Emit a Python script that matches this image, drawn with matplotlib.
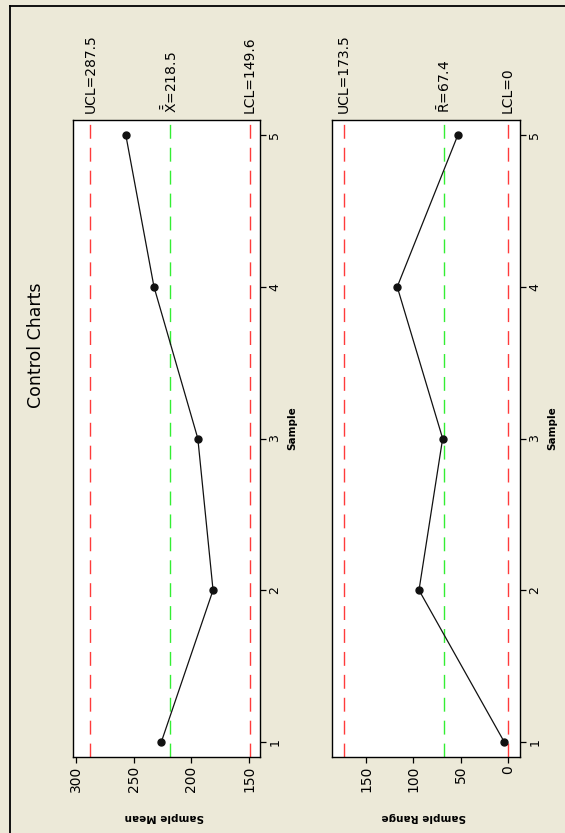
import matplotlib
matplotlib.use("Agg")
import matplotlib.pyplot as plt
from matplotlib.lines import Line2D
from matplotlib.transforms import blended_transform_factory

plt.rcParams['font.family'] = ['DejaVu Sans']
plt.rcParams['mathtext.fontset'] = 'dejavusans'

# ---- data ----
samples = [1, 2, 3, 4, 5]
sample_means = [226.0, 181.2, 194.4, 232.4, 256.8]
sample_ranges = [4, 94, 69, 117, 53]

mean_ucl, mean_center, mean_lcl = 287.5, 218.5, 149.6
range_ucl, range_center, range_lcl = 173.5, 67.4, 0.0

mean_ticks = [150, 200, 250, 300]
range_ticks = [0, 50, 100, 150]

mean_limit_labels = ["UCL=287.5", r"$\bar{\bar{\mathrm{X}}}$=218.5", "LCL=149.6"]
range_limit_labels = ["UCL=173.5", r"$\bar{\mathrm{R}}$=67.4", "LCL=0"]

W, H = 565, 833
BG = '#ECE9D8'
RED = '#FF3B3B'
GREEN = '#33EE33'

fig = plt.figure(figsize=(W / 100, H / 100), dpi=100, facecolor=BG)


def fx(x):
    return x / W


def fy(y):
    return 1 - y / H


# outer frame (left and top borders)
fig.add_artist(Line2D([fx(10), fx(10)], [0, fy(6)], color='black', lw=1.3,
                      transform=fig.transFigure))
fig.add_artist(Line2D([fx(10), 1], [fy(6), fy(6)], color='black', lw=1.3,
                      transform=fig.transFigure))

box_top, box_bot = 120, 757
panels = [
    dict(x0=73, x1=260, values=sample_means, limits=(mean_ucl, mean_center, mean_lcl),
         xlim=(302.6, 140.5), ticks=mean_ticks, labels=mean_limit_labels,
         name="Sample Mean"),
    dict(x0=332, x1=520, values=sample_ranges, limits=(range_ucl, range_center, range_lcl),
         xlim=(185.9, -12.7), ticks=range_ticks, labels=range_limit_labels,
         name="Sample Range"),
]

dash = (0, (10, 6.5))
for p in panels:
    ax = fig.add_axes([fx(p['x0']), fy(box_bot), (p['x1'] - p['x0']) / W,
                       (box_bot - box_top) / H])
    ax.set_facecolor('white')
    ucl, cl, lcl = p['limits']
    ax.axvline(ucl, color=RED, ls=dash, lw=1.0, zorder=1)
    ax.axvline(lcl, color=RED, ls=dash, lw=1.0, zorder=1)
    ax.axvline(cl, color=GREEN, ls=dash, lw=1.0, zorder=1)
    ax.plot(p['values'], samples, color='#111111', lw=0.9, marker='o', ms=5,
            zorder=3)
    ax.set_xlim(*p['xlim'])
    ax.set_ylim(0.9, 5.1)
    ax.set_xticks(p['ticks'])
    ax.set_xticklabels([str(t) for t in p['ticks']], rotation=90, fontsize=10)
    ax.set_yticks(samples)
    ax.set_yticklabels([str(s) for s in samples], rotation=90, fontsize=9,
                       va='center')
    ax.yaxis.tick_right()
    ax.tick_params(axis='both', direction='out', length=4, width=0.9,
                   colors='black', pad=2)
    for s in ax.spines.values():
        s.set_linewidth(1.0)
        s.set_color('black')

    # control limit labels at the top
    tr = blended_transform_factory(ax.transData, fig.transFigure)
    for val, lab in zip(p['limits'], p['labels']):
        ax.text(val, fy(113), lab, transform=tr, rotation=90, ha='center',
                va='bottom', fontsize=10, clip_on=False)

    # axis titles
    fig.text(fx(p['x1'] + 32), fy(428), "Sample", rotation=90, ha='center',
             va='center', fontsize=7.5, fontweight='bold')
    fig.text(fx((p['x0'] + p['x1']) / 2 - 2), fy(817), p['name'], rotation=180,
             ha='center', va='center', fontsize=7.5, fontweight='bold')

fig.text(fx(36), fy(345), "Control Charts", rotation=90, ha='center',
         va='center', fontsize=12.5)

fig.savefig("out.png", dpi=100, facecolor=BG)
